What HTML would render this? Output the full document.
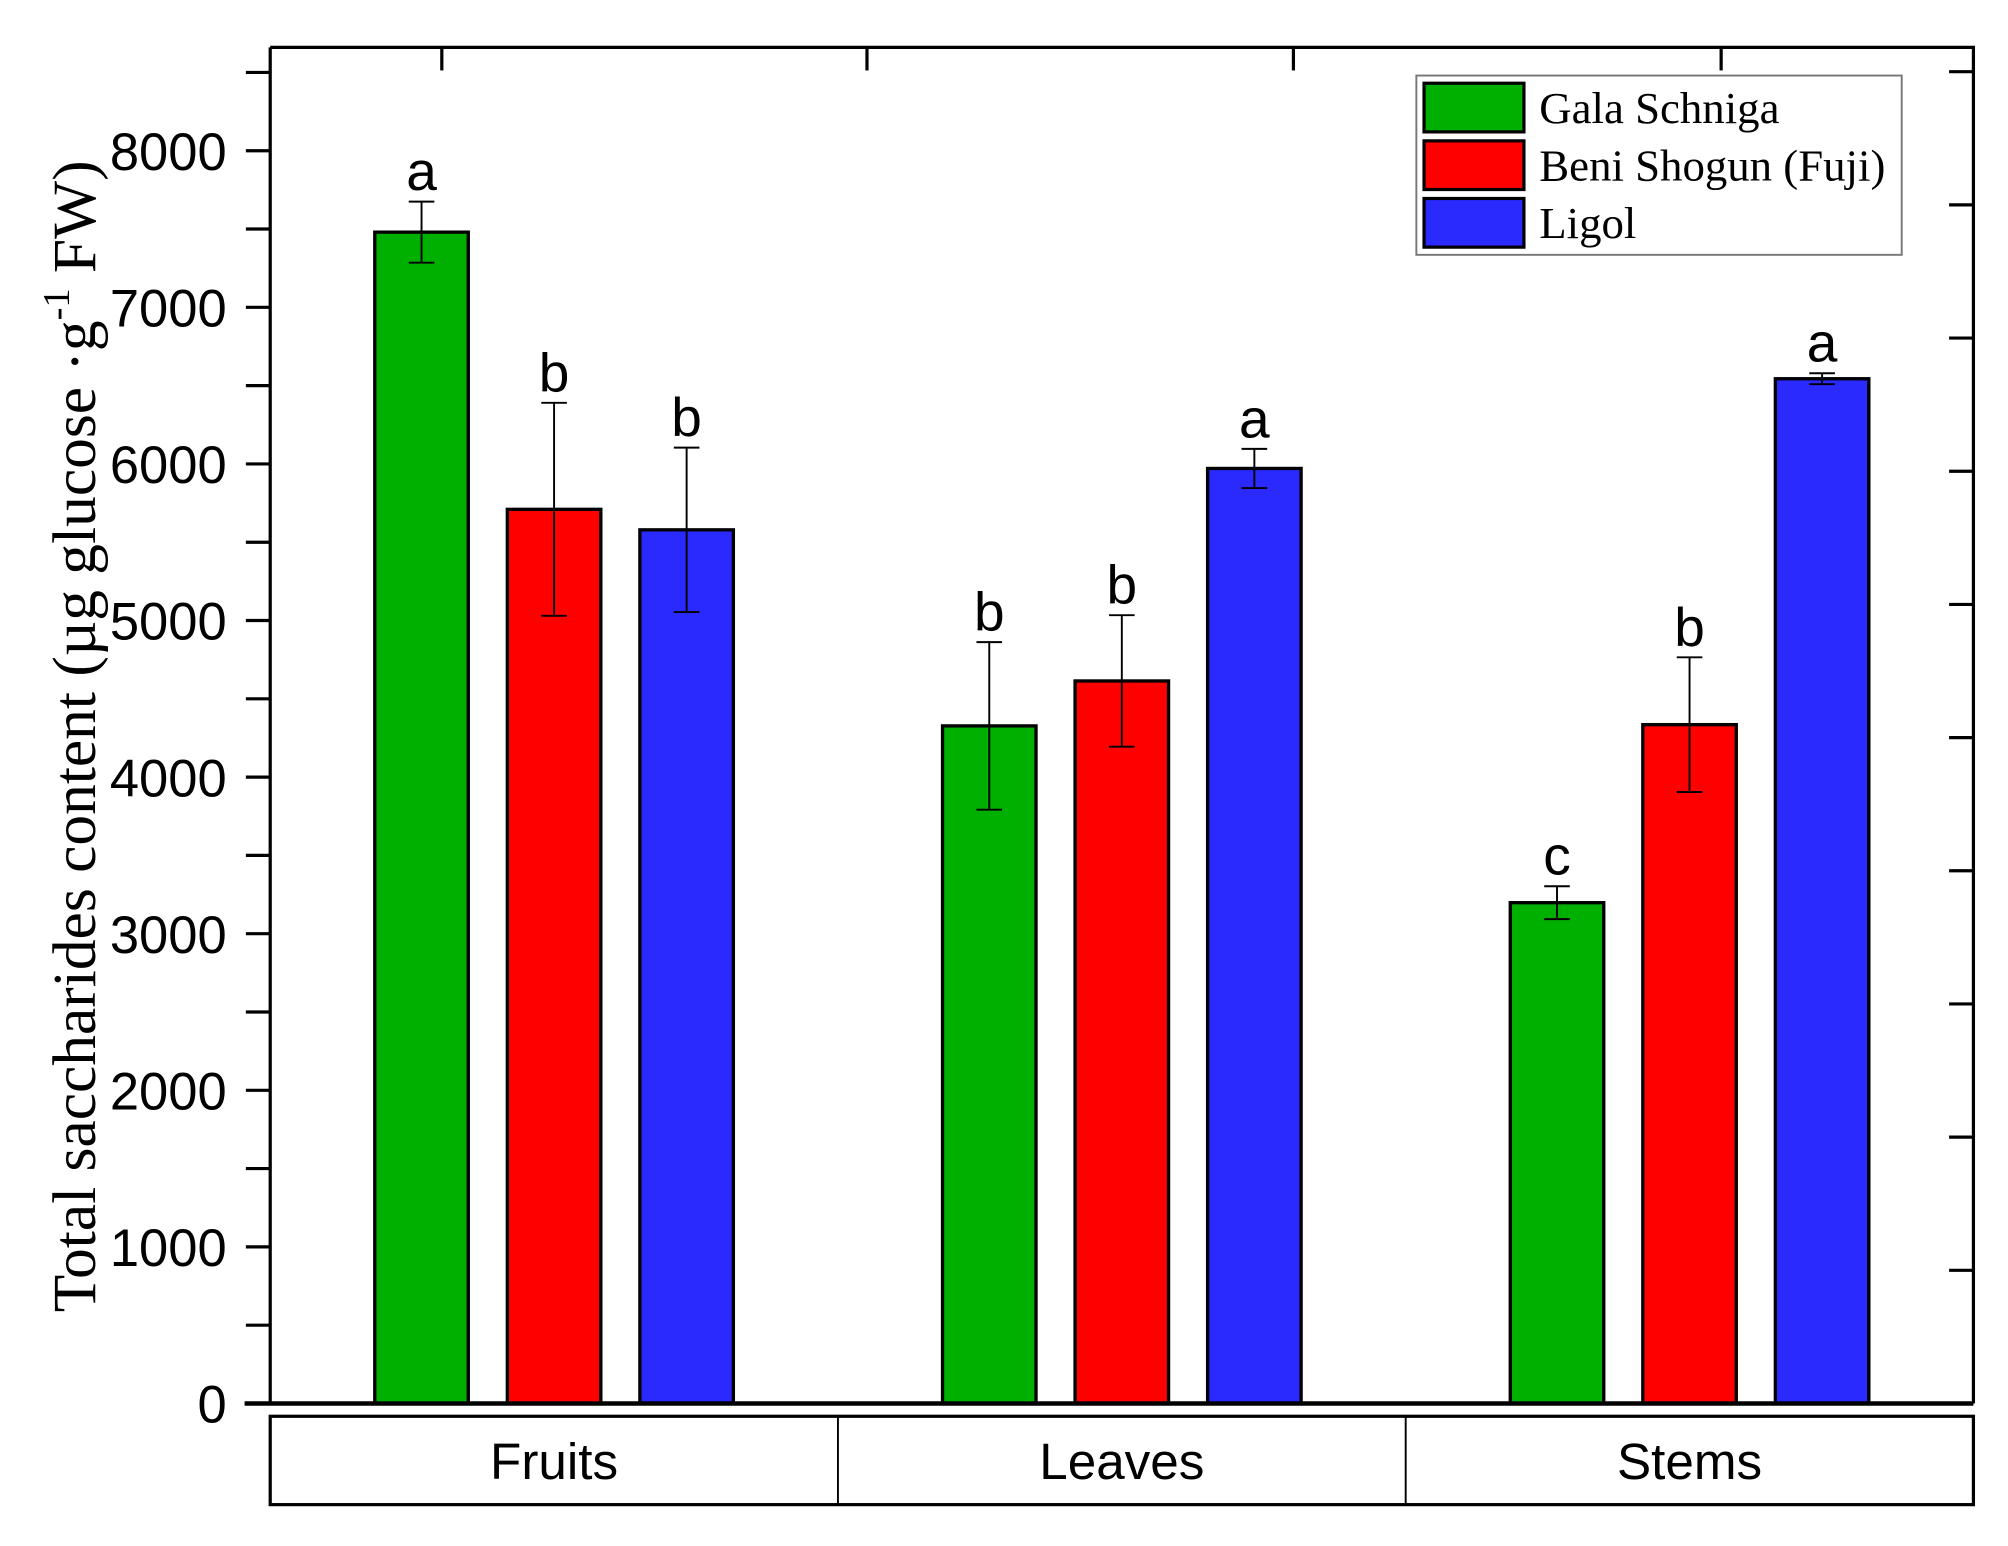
<!DOCTYPE html>
<html><head><meta charset="utf-8"><style>
html,body{margin:0;padding:0;background:#fff;}
svg{display:block;}
</style></head><body>
<svg id="chart" width="2008" height="1546" viewBox="0 0 1568 1207.3" preserveAspectRatio="none" xmlns="http://www.w3.org/2000/svg">
<g id="g"></g>
</svg>
<script>
const categories = ["Fruits", "Leaves", "Stems"];
const seriesNames = ["Gala Schniga", "Beni Shogun (Fuji)", "Ligol"];
const gala = [7480, 4327, 3198];
const beni = [5710, 4614, 4335];
const ligol = [5579, 5971, 6544];
const galaErr = [195, 535, 105];
const beniErr = [680, 420, 430];
const ligolErr = [525, 125, 35];
const galaLetters = ["a", "b", "c"];
const beniLetters = ["b", "b", "b"];
const ligolLetters = ["b", "a", "a"];
const yTicks = [0, 1000, 2000, 3000, 4000, 5000, 6000, 7000, 8000];
const yMax = 8660;

const NS = "http://www.w3.org/2000/svg";
const g = document.getElementById("g");
const L = 211, R = 1541, T = 37, B = 1096;
const y = v => B - v / yMax * (B - T);
const groupW = (R - L) / categories.length;
const gx = i => L + groupW * (i + 0.5);
const barW = 73, step = 103.5;
const colors = ["#00b000", "#ff0000", "#2a2aff"];
const vals = [gala, beni, ligol], errs = [galaErr, beniErr, ligolErr], lets = [galaLetters, beniLetters, ligolLetters];
function mk(tag, attrs, text) {
  const e = document.createElementNS(NS, tag);
  for (const k in attrs) e.setAttribute(k, attrs[k]);
  if (text !== undefined) e.textContent = text;
  g.appendChild(e);
  return e;
}
for (let s = 0; s < 3; s++) {
  for (let c = 0; c < 3; c++) {
    const cx = gx(c) + (s - 1) * step;
    const v = vals[s][c], e = errs[s][c];
    const r = mk("rect", {x: cx - barW / 2, y: y(v), width: barW, height: B - y(v), fill: colors[s], stroke: "#000", "stroke-width": 2.6});
    
    
    const eb = mk("path", {d: `M${cx},${y(v + e)}V${y(v - e)}M${cx - 10},${y(v + e)}H${cx + 10}M${cx - 10},${y(v - e)}H${cx + 10}`, stroke: "#000", "stroke-width": 1.5, fill: "none"});
    
    
    const t = mk("text", {x: cx, y: y(v + e) - 9, "text-anchor": "middle", "font-family": "Liberation Sans, sans-serif", "font-size": 43}, lets[s][c]);
    
    
  }
}
const fr = mk("path", {d: `M${L},${T}H${R}V${B}M${L},${T}V${B}`, stroke: "#000", "stroke-width": 2.5, fill: "none"});


const xa = mk("line", {x1: L - 20, x2: R, y1: B, y2: B, stroke: "#000", "stroke-width": 3.5});


for (let v = 0; v <= 8500; v += 500) {
  const tk = mk("line", {x1: L - 19, x2: L, y1: y(v), y2: y(v), stroke: "#000", "stroke-width": 2.5});
  
  
}
for (const v of yTicks) {
  const t = mk("text", {x: 177, y: y(v) + 15, "text-anchor": "end", "font-family": "Liberation Sans, sans-serif", "font-size": 41}, String(v));
  
  
}
for (let yy = B - 104; yy > T + 5; yy -= 104) {
  const tk = mk("line", {x1: R - 19, x2: R, y1: yy, y2: yy, stroke: "#000", "stroke-width": 2.5});
  
  
}
for (const xx of [345, 677, 1010, 1344]) {
  const tk = mk("line", {x1: xx, x2: xx, y1: T, y2: T + 18, stroke: "#000", "stroke-width": 2.5});
  
  
}
const cb = mk("rect", {x: L, y: 1106, width: R - L, height: 69, fill: "#fff", stroke: "#000", "stroke-width": 2.5});


for (let c = 0; c < 3; c++) {
  if (c > 0) {
    const d = mk("line", {x1: L + groupW * c, x2: L + groupW * c, y1: 1106, y2: 1175, stroke: "#000", "stroke-width": 1.5});
    
    
  }
  const t = mk("text", {x: gx(c), y: 1155, "text-anchor": "middle", "font-family": "Liberation Sans, sans-serif", "font-size": 40}, categories[c]);
  
  
}
const yt = mk("text", {transform: "translate(74,575) rotate(-90)", "text-anchor": "middle", "font-family": "Liberation Serif, serif", "font-size": 48}, "");


yt.innerHTML = 'Total saccharides content (µg glucose ·g<tspan dy="-20" font-size="30">-1</tspan><tspan dy="20"> FW)</tspan>';
const lg = mk("rect", {x: 1106, y: 59, width: 379, height: 140, fill: "#fff", stroke: "#777", "stroke-width": 1.5});


for (let s = 0; s < 3; s++) {
  const cy = 84 + s * 45;
  const sw = mk("rect", {x: 1112, y: cy - 19, width: 78, height: 38, fill: colors[s], stroke: "#000", "stroke-width": 2.5});
  
  
  const t = mk("text", {x: 1202, y: cy + 12, "font-family": "Liberation Serif, serif", "font-size": 35}, seriesNames[s]);
  
  
}
</script>
</body></html>
